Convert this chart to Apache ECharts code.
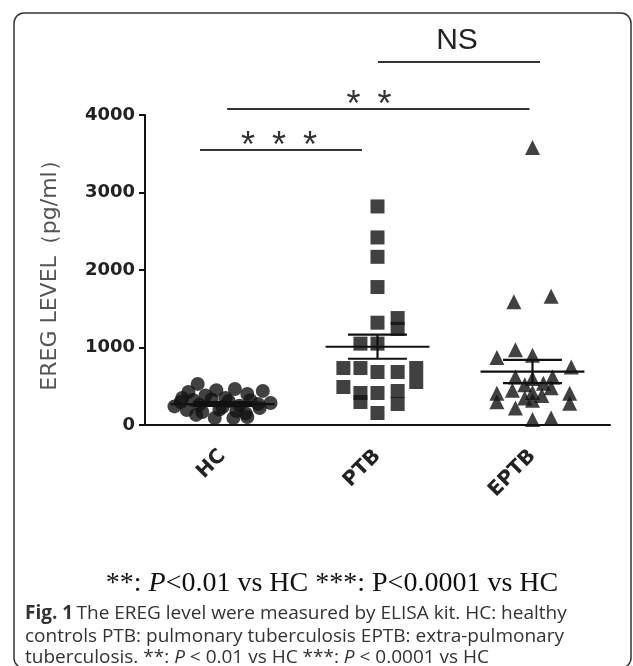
<!DOCTYPE html>
<html><head><meta charset="utf-8">
<script src="https://cdn.jsdelivr.net/npm/echarts@6/dist/echarts.min.js"></script>
<style>html,body{margin:0;padding:0;background:#fff}#c{width:633px;height:666px}</style>
</head><body><div id="c"></div>
<script>
// ---- data ----
const categories = ['HC', 'PTB', 'EPTB'];
const yMin = 0, yMax = 4000, yStep = 1000;

const hcValues  = [530, 426, 450, 465, 440, 380, 400, 350, 297, 322, 330, 310, 320, 284, 260, 250, 270, 230, 194, 168, 200, 180, 219, 150, 90, 90, 103, 130, 240, 350];
const hcJitter  = [-0.16, -0.22, -0.04, 0.08, 0.26, -0.11, 0.16, 0.02, -0.27, -0.19, -0.07, 0.04, 0.18, 0.31, -0.15, 0.11, 0.23, 0.0, -0.23, -0.13, -0.02, 0.09, 0.24, 0.15, -0.05, 0.07, 0.16, -0.17, -0.31, -0.26];

const ptbValues = [2820, 2420, 2170, 1780, 1320, 1380, 1240, 1050, 1050, 735, 735, 684, 684, 735, 555, 490, 413, 297, 413, 439, 271, 155];
const ptbJitter = [0, 0, 0, 0, 0, 0.13, 0.13, -0.11, 0, -0.22, -0.11, 0, 0.13, 0.25, 0.25, -0.22, -0.11, -0.11, 0, 0.13, 0.13, 0];

const eptbValues = [3580, 1590, 1660, 870, 970, 900, 750, 620, 600, 620, 520, 540, 410, 450, 420, 480, 410, 300, 220, 320, 280, 350, 70, 90, 380];
const eptbJitter = [0, -0.12, 0.12, -0.23, -0.11, 0, 0.25, -0.11, 0, 0.13, -0.05, 0.07, -0.23, -0.13, 0, 0.12, 0.24, -0.23, -0.11, 0, 0.24, -0.05, 0, 0.12, 0.06];

const groupMeans = [270, 1010, 690];
const groupSEM   = [25, 155, 150];

// significance brackets (x in category units, level in pg/ml)
const bracketFrom   = [0.355, 0.53, 1.503];
const bracketTo     = [1.40, 2.48, 2.548];
const bracketLevel  = [3548, 4077, 4684];
const bracketLabelX = [0.865, 1.445, 2.013];
const bracketLabels = ['***', '**', 'NS'];

// ---- chart ----
const chart = echarts.init(document.getElementById('c'), null, { renderer: 'canvas' });
const toPoints = (vals, jit, idx) => vals.map((v, i) => [idx + 0.5 + jit[i], v]);
const INK = '#111';
const axisFont = { fontFamily: 'DejaVu Sans', fontWeight: 'bold', color: '#222' };

const option = {
  animation: false,
  backgroundColor: '#fff',
  grid: { left: 145, right: 23, top: 115, bottom: 241 },
  xAxis: [
    {
      type: 'category', data: categories, boundaryGap: true,
      axisLine: { lineStyle: { color: INK, width: 2 } },
      axisTick: { alignWithLabel: true, length: 6, lineStyle: { color: INK, width: 2 } },
      axisLabel: Object.assign({ rotate: 45, fontSize: 20, margin: 28 }, axisFont),
      splitLine: { show: false }
    },
    { type: 'value', min: 0, max: categories.length, show: false }
  ],
  yAxis: {
    type: 'value', min: yMin, max: yMax, interval: yStep,
    splitLine: { show: false },
    axisLine: { show: true, lineStyle: { color: INK, width: 2 } },
    axisTick: { show: true, length: 6, lineStyle: { color: INK, width: 2 } },
    axisLabel: Object.assign({ fontSize: 18, margin: 10, formatter: v => String(v) }, axisFont),
    name: 'EREG LEVEL（pg/ml）', nameLocation: 'middle', nameGap: 84,
    nameTextStyle: { fontFamily: 'DejaVu Sans', fontSize: 22, color: '#555' }
  },
  series: [
    { type: 'scatter', xAxisIndex: 1, symbol: 'circle', symbolSize: 14, itemStyle: { color: INK }, data: toPoints(hcValues, hcJitter, 0), z: 2 },
    { type: 'scatter', xAxisIndex: 1, symbol: 'rect', symbolSize: 14, itemStyle: { color: INK }, data: toPoints(ptbValues, ptbJitter, 1), z: 2 },
    { type: 'scatter', xAxisIndex: 1, symbol: 'triangle', symbolSize: 15, itemStyle: { color: INK }, data: toPoints(eptbValues, eptbJitter, 2), z: 2 },
    {
      type: 'custom', xAxisIndex: 1, z: 5,
      data: categories.map((_, i) => [i + 0.5, groupMeans[i], groupSEM[i]]),
      renderItem: function (params, api) {
        const c = api.value(0), m = api.value(1), s = api.value(2);
        const seg = (xa, ya, xb, yb) => {
          const a = api.coord([xa, ya]), b = api.coord([xb, yb]);
          return { type: 'line', shape: { x1: a[0], y1: a[1], x2: b[0], y2: b[1] }, style: { stroke: INK, lineWidth: 2.2 } };
        };
        return { type: 'group', children: [
          seg(c - 0.335, m, c + 0.335, m),
          seg(c, m - s, c, m + s),
          seg(c - 0.19, m + s, c + 0.19, m + s),
          seg(c - 0.19, m - s, c + 0.19, m - s)
        ] };
      }
    },
    {
      type: 'custom', xAxisIndex: 1, z: 5, clip: false,
      data: bracketLabels.map((_, i) => [bracketFrom[i], bracketTo[i], bracketLevel[i], bracketLabelX[i]]),
      renderItem: function (params, api) {
        const i = params.dataIndex;
        const a = api.coord([api.value(0), api.value(2)]);
        const b = api.coord([api.value(1), api.value(2)]);
        const lc = api.coord([api.value(3), api.value(2)]);
        const children = [{ type: 'line', shape: { x1: a[0], y1: a[1], x2: b[0], y2: b[1] }, style: { stroke: '#333', lineWidth: 2 } }];
        const lab = bracketLabels[i];
        if (lab === 'NS') {
          children.push({ type: 'text', x: lc[0], y: lc[1] - 21, style: { text: lab, fill: '#222', fontFamily: 'Liberation Sans', fontSize: 30, align: 'center', verticalAlign: 'middle' } });
        } else {
          const n = lab.length;
          for (let k = 0; k < n; k++) {
            children.push({ type: 'text', x: lc[0] + (k - (n - 1) / 2) * 31, y: lc[1] - 3, style: { text: '*', fill: '#333', fontFamily: 'Liberation Sans', fontSize: 36, align: 'center', verticalAlign: 'middle' } });
          }
        }
        return { type: 'group', children: children };
      }
    }
  ],
  graphic: [
    { type: 'rect', shape: { x: 14, y: 13, width: 617, height: 655, r: 10 }, style: { fill: 'none', stroke: '#333', lineWidth: 1.5 }, z: 0 },
    { type: 'text', x: 332, y: 584, style: {
        text: '{n|**: }{i|P}{n|<0.01 vs HC ***: P<0.0001 vs HC}',
        align: 'center', verticalAlign: 'middle',
        rich: {
          n: { fontFamily: 'Liberation Serif', fontSize: 28, fill: '#111' },
          i: { fontFamily: 'Liberation Serif', fontSize: 28, fontStyle: 'italic', fill: '#111' }
        } } },
    { type: 'text', x: 25, y: 614, style: {
        text: '{b|Fig. 1} {n|The EREG level were measured by ELISA kit. HC: healthy}',
        verticalAlign: 'middle',
        rich: {
          b: { fontFamily: 'Open Sans', fontWeight: 'bold', fontSize: 19, fill: '#333' },
          n: { fontFamily: 'Open Sans', fontSize: 19, fill: '#333' }
        } } },
    { type: 'text', x: 25, y: 637, style: {
        text: 'controls PTB: pulmonary tuberculosis EPTB: extra-pulmonary',
        verticalAlign: 'middle', fontFamily: 'Open Sans', fontSize: 19, fill: '#333' } },
    { type: 'text', x: 25, y: 658, style: {
        text: '{n|tuberculosis. **: }{i|P}{n| < 0.01 vs HC ***: }{i|P}{n| < 0.0001 vs HC}',
        verticalAlign: 'middle',
        rich: {
          n: { fontFamily: 'Open Sans', fontSize: 19, fill: '#333' },
          i: { fontFamily: 'Open Sans', fontSize: 19, fontStyle: 'italic', fill: '#333' }
        } } }
  ]
};
chart.setOption(option);
</script>
</body></html>
